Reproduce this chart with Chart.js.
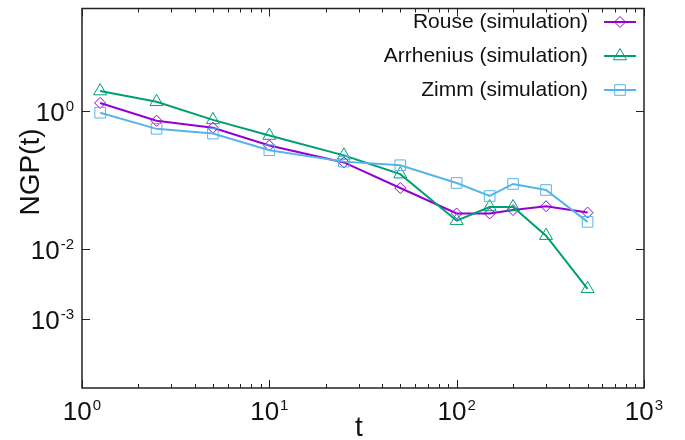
<!DOCTYPE html>
<html>
<head>
<meta charset="utf-8">
<script src="https://cdn.jsdelivr.net/npm/chart.js@4.4.1/dist/chart.umd.min.js"></script>
<style>
  html, body { margin: 0; padding: 0; background: #fff; }
  #wrap { width: 685px; height: 440px; }
</style>
</head>
<body>
<div id="wrap"><canvas id="ngpChart" width="685" height="440"></canvas></div>
<script>
// Time points (t)
const tValues = [1.25, 2.5, 5, 10, 25, 50, 100, 150, 200, 300, 500];

// NGP(t) for each model
const rouseNGP = [1.30, 0.72, 0.57, 0.316, 0.18, 0.077, 0.033, 0.033, 0.037, 0.042, 0.034];
const arrheniusNGP = [1.93, 1.35, 0.74, 0.44, 0.228, 0.122, 0.026, 0.041, 0.041, 0.0158, 0.0027];
const zimmNGP = [0.94, 0.55, 0.47, 0.27, 0.185, 0.164, 0.091, 0.059, 0.088, 0.072, 0.025];

const seriesNames = ['Rouse (simulation)', 'Arrhenius (simulation)', 'Zimm (simulation)'];

// Tick values and exponent labels
const xTickValues = [1, 10, 100, 1000];
const xTickExponents = ['0', '1', '2', '3'];
const xMinorMultipliers = [2, 3, 4, 5, 6, 7, 8, 9];
const yTickValues = [1, 0.01, 0.001];
const yTickExponents = ['0', '-2', '-3'];

const FONT = "'Liberation Sans', Arial, sans-serif";

// Styles per series
const colors = ['#9400d3', '#009e73', '#56b4e9'];
const markers = ['rectRot', 'triangle', 'rect'];
const markerSizes = [5.5, 7.5, 7.5];

function toPoints(values) {
    return tValues.map((t, i) => ({ x: t, y: values[i] }));
}

function makeDataset(i, values) {
    return {
        label: seriesNames[i],
        data: toPoints(values),
        borderColor: colors[i],
        borderWidth: 2,
        pointStyle: markers[i],
        pointRadius: markerSizes[i],
        pointBorderColor: colors[i],
        pointBackgroundColor: 'rgba(0,0,0,0)',
        pointBorderWidth: 1,
        tension: 0,
        fill: false,
        order: 2 - i
    };
}

// "10" with a raised exponent
function drawPower(ctx, exp, x, y, align) {
    ctx.font = '26px ' + FONT;
    const wb = ctx.measureText('10').width;
    ctx.font = '15px ' + FONT;
    const we = ctx.measureText(exp).width;
    const total = wb + we + 1;
    let start = align === 'right' ? x - total : x - total / 2;
    ctx.textAlign = 'left';
    ctx.textBaseline = 'alphabetic';
    ctx.font = '26px ' + FONT;
    ctx.fillText('10', start, y);
    ctx.font = '15px ' + FONT;
    ctx.fillText(exp, start + wb + 1, y - 10);
}

// gnuplot-like frame, inward ticks, labels, titles and legend
const gnuplotLook = {
    id: 'gnuplotLook',
    afterDraw(chart) {
        const ctx = chart.ctx;
        const a = chart.chartArea;
        const xs = chart.scales.x;
        const ys = chart.scales.y;
        ctx.save();
        ctx.strokeStyle = '#222';
        ctx.fillStyle = '#111';

        // ticks
        ctx.lineWidth = 1;
        ctx.beginPath();
        xTickValues.forEach((v, k) => {
            const px = Math.round(xs.getPixelForValue(v)) + 0.5;
            ctx.moveTo(px, a.bottom); ctx.lineTo(px, a.bottom - 8);
            ctx.moveTo(px, a.top); ctx.lineTo(px, a.top + 8);
            if (k < xTickValues.length - 1) {
                xMinorMultipliers.forEach(m => {
                    const pm = Math.round(xs.getPixelForValue(v * m)) + 0.5;
                    ctx.moveTo(pm, a.bottom); ctx.lineTo(pm, a.bottom - 4);
                    ctx.moveTo(pm, a.top); ctx.lineTo(pm, a.top + 4);
                });
            }
        });
        yTickValues.forEach(v => {
            const py = Math.round(ys.getPixelForValue(v)) + 0.5;
            ctx.moveTo(a.left, py); ctx.lineTo(a.left + 8, py);
            ctx.moveTo(a.right, py); ctx.lineTo(a.right - 8, py);
        });
        ctx.stroke();

        // frame
        ctx.lineWidth = 1.5;
        ctx.strokeRect(a.left, a.top, a.right - a.left, a.bottom - a.top);

        // tick labels
        xTickValues.forEach((v, k) => {
            drawPower(ctx, xTickExponents[k], xs.getPixelForValue(v), a.bottom + 32, 'center');
        });
        yTickValues.forEach((v, k) => {
            drawPower(ctx, yTickExponents[k], a.left - 8, ys.getPixelForValue(v) + 10, 'right');
        });

        // axis titles
        ctx.font = '28px ' + FONT;
        ctx.textAlign = 'center';
        ctx.textBaseline = 'alphabetic';
        ctx.fillText('t', (a.left + a.right) / 2 - 4, 436);
        ctx.save();
        ctx.translate(39, 172);
        ctx.rotate(-Math.PI / 2);
        ctx.fillText('NGP(t)', 0, 0);
        ctx.restore();

        // legend
        const rows = [22, 56, 90];
        chart.data.datasets.forEach((ds, i) => {
            const y = rows[i];
            ctx.font = '21px ' + FONT;
            ctx.textAlign = 'right';
            ctx.textBaseline = 'middle';
            ctx.fillStyle = '#111';
            ctx.fillText(ds.label, 588, y);
            ctx.strokeStyle = ds.borderColor;
            ctx.lineWidth = 2;
            ctx.beginPath();
            ctx.moveTo(604, y); ctx.lineTo(636, y);
            ctx.stroke();
            ctx.lineWidth = 1;
            ctx.fillStyle = 'rgba(0,0,0,0)';
            Chart.helpers.drawPoint(ctx, {
                pointStyle: ds.pointStyle, radius: ds.pointRadius, rotation: 0, borderWidth: 1
            }, 620, y);
        });
        ctx.restore();
    }
};

const ctx = document.getElementById('ngpChart').getContext('2d');
new Chart(ctx, {
    type: 'line',
    data: {
        datasets: [
            makeDataset(0, rouseNGP),
            makeDataset(1, arrheniusNGP),
            makeDataset(2, zimmNGP)
        ]
    },
    options: {
        responsive: false,
        animation: false,
        devicePixelRatio: 1,
        layout: { padding: { top: 5, right: 41, left: 0, bottom: 0 } },
        plugins: { legend: { display: false }, tooltip: { enabled: false } },
        scales: {
            x: {
                type: 'logarithmic', min: 1, max: 1000,
                grid: { display: false }, border: { display: false },
                ticks: { display: false },
                afterFit(s) { s.height = 52; }
            },
            y: {
                type: 'logarithmic', min: 1e-4, max: 30,
                grid: { display: false }, border: { display: false },
                ticks: { display: false },
                afterFit(s) { s.width = 82; }
            }
        }
    },
    plugins: [gnuplotLook]
});
</script>
</body>
</html>
